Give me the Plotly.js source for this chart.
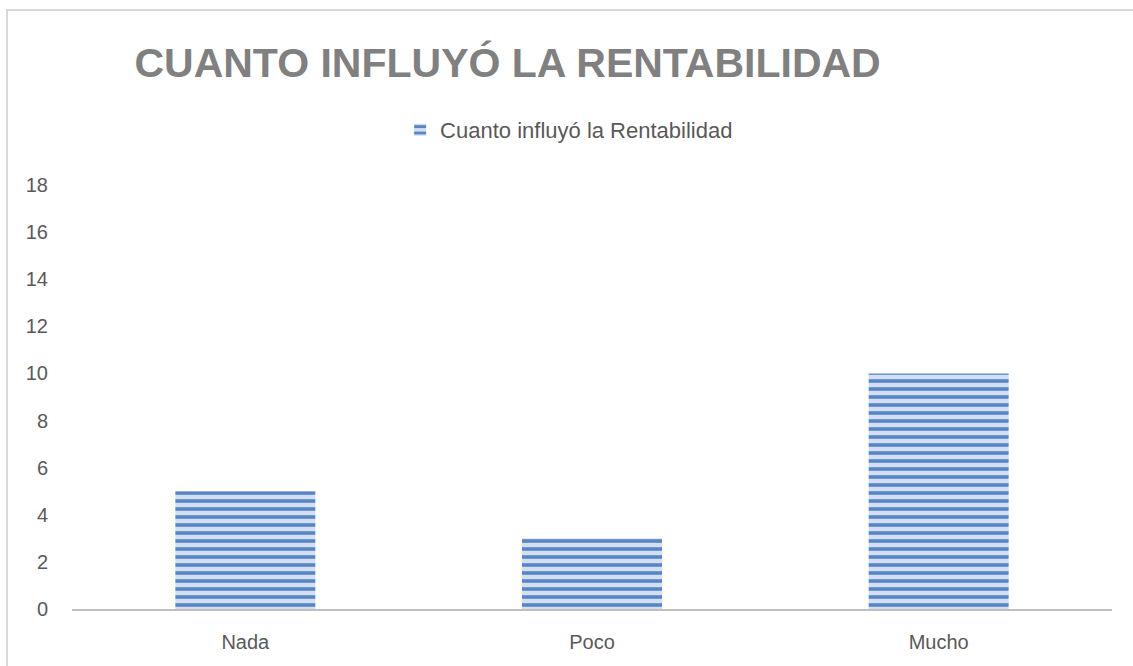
<!DOCTYPE html>
<html>
<head>
<meta charset="utf-8">
<script src="https://cdn.plot.ly/plotly-3.0.1.min.js"></script>
<style>
  html, body { margin: 0; padding: 0; background: #ffffff; }
  #chart { width: 1133px; height: 666px; }
</style>
</head>
<body>
<div id="chart"></div>
<script>
const categories = ["Nada", "Poco", "Mucho"];
const values = [5, 3, 10];
const seriesName = "Cuanto influyó la Rentabilidad";
const chartTitle = "CUANTO INFLUYÓ LA RENTABILIDAD";
const yTicks = [0, 2, 4, 6, 8, 10, 12, 14, 16, 18];

const trace = {
  type: "bar",
  x: categories,
  y: values,
  name: seriesName,
  showlegend: true,
  marker: {
    color: "#d3dff0",
    line: { width: 0 },
    pattern: {
      shape: "-",
      size: 8,
      solidity: 0.45,
      fgcolor: "#5885c4",
      bgcolor: "#d3dff0",
      fillmode: "replace"
    }
  },
  hoverinfo: "x+y"
};

const layout = {
  width: 1133,
  height: 666,
  paper_bgcolor: "#ffffff",
  plot_bgcolor: "#ffffff",
  margin: { l: 72, r: 21, t: 185, b: 57 },
  font: { family: "Liberation Sans, Arial, sans-serif", color: "#595959", size: 20 },
  title: {
    text: chartTitle,
    font: { family: "Liberation Sans, Arial, sans-serif", size: 41, color: "#808080", weight: "bold" },
    xref: "container", yref: "container",
    x: 0.448, xanchor: "center",
    y: 0.906, yanchor: "middle"
  },
  bargap: 0.596,
  xaxis: {
    type: "category",
    showline: true,
    linecolor: "#bfbfbf",
    linewidth: 2,
    showgrid: false,
    zeroline: false,
    ticks: "",
    ticklabelstandoff: 14,
    tickfont: { size: 20, color: "#595959" }
  },
  yaxis: {
    range: [0, 18],
    tickvals: yTicks,
    ticktext: yTicks.map(String),
    showgrid: false,
    zeroline: false,
    showline: false,
    ticks: "",
    ticklabelstandoff: 23,
    tickfont: { size: 20, color: "#595959" }
  },
  showlegend: true,
  legend: {
    orientation: "h",
    x: 0.478, xanchor: "center",
    y: 1.1297, yanchor: "middle",
    font: { size: 22, color: "#595959" },
    bgcolor: "rgba(0,0,0,0)"
  },
  shapes: [{
    type: "rect",
    xref: "paper", yref: "paper",
    x0: -0.0625, x1: 1.2, y0: -0.3, y1: 1.4127,
    line: { color: "#d9d9d9", width: 2 },
    fillcolor: "rgba(0,0,0,0)",
    layer: "below"
  }]
};

Plotly.newPlot("chart", [trace], layout, { displayModeBar: false, staticPlot: true });
</script>
</body>
</html>
